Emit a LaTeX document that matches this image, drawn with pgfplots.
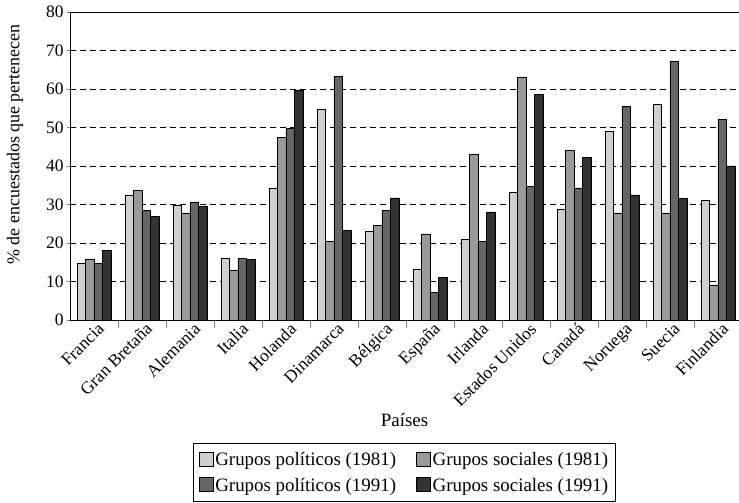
\documentclass[border=0pt]{standalone}
\usepackage{fontspec}
\setmainfont{Liberation Serif}
\usepackage{pgfplots}
\usepackage{pgfplotstable}
\pgfplotsset{compat=1.18}

\definecolor{polA}{HTML}{CFCFCF}
\definecolor{socA}{HTML}{9A9A9A}
\definecolor{polB}{HTML}{666666}
\definecolor{socB}{HTML}{333333}

% columnas: politicos 1981, sociales 1981, politicos 1991, sociales 1991
\pgfplotstableread{
x  p81   s81   p91   s91
0  14.7  15.9  14.7  18.0
1  32.5  33.6  28.5  27.0
2  29.9  27.8  30.7  29.5
3  16.0  12.8  16.0  15.8
4  34.3  47.4  49.7  59.8
5  54.7  20.5  63.3  23.3
6  23.1  24.5  28.5  31.7
7  13.2  22.4   7.2  11.0
8  20.9  43.0  20.5  28.1
9  33.3  63.0  34.7  58.7
10 28.8  44.0  34.3  42.3
11 48.9  27.8  55.5  32.5
12 56.1  27.8  67.3  31.5
13 31.0   9.1  52.2  40.0
}\datos

\newcommand{\fnt}{\fontsize{17.5}{21}\selectfont}
\newcommand{\fntl}{\fontsize{19}{22}\selectfont}

\begin{document}
\begin{tikzpicture}
\begin{axis}[
    name=ax,
    scale only axis,
    width=669bp, height=308bp,
    ybar, bar width=0.177,
    xmin=-0.5, xmax=13.44,
    ymin=0, ymax=80,
    axis x line*=box, axis y line*=left,
    axis line style={line width=0.8pt},
    xtick={0,...,13},
    xticklabels={Francia, Gran Bretaña, Alemania, Italia, Holanda, Dinamarca, Bélgica, España, Irlanda, Estados Unidos, Canadá, Noruega, Suecia, Finlandia},
    major x tick style={draw=none},
    minor xtick={0.5,1.5,...,12.5},
    minor tick length=8bp,
    xtick pos=left,
    x tick label style={rotate=45, anchor=north east, inner sep=1bp, xshift=4bp},
    ytick={0,10,...,80},
    ytick pos=left, ytick align=outside,
    major tick length=3bp,
    ymajorgrids,
    y grid style={black, line width=0.7pt, dash pattern=on 6bp off 4bp},
    /pgf/number format/assume math mode=true,
    tick label style={font=\fnt},
    xlabel={Países},
    ylabel={\% de encuestados que pertenecen},
    xlabel style={font=\fntl, yshift=-1bp},
    ylabel style={font=\fontsize{18}{21}\selectfont, at={(axis description cs:-0.082,0.57)}, anchor=center},
    legend columns=2,
    legend style={at={(0.5,-0.4)}, anchor=north, draw=black, line width=0.6pt,
        font=\fntl, cells={anchor=west},
        inner xsep=5bp, inner ysep=7bp, row sep=7bp,
        /tikz/every even column/.append style={column sep=18bp}},
    legend image code/.code={\draw[#1, draw=black, line width=0.5pt] (0bp,-6bp) rectangle (14bp,8bp);},
]
\addplot[fill=polA, draw=black, line width=0.5pt, bar shift=-0.2655] table[x=x, y=p81] {\datos};
\addplot[fill=socA, draw=black, line width=0.5pt, bar shift=-0.0885] table[x=x, y=s81] {\datos};
\addplot[fill=polB, draw=black, line width=0.5pt, bar shift=0.0885] table[x=x, y=p91] {\datos};
\addplot[fill=socB, draw=black, line width=0.5pt, bar shift=0.2655] table[x=x, y=s91] {\datos};
\legend{Grupos políticos (1981), Grupos sociales (1981), Grupos políticos (1991), Grupos sociales (1991)}
\end{axis}
\pgfresetboundingbox
\path ([shift={(-70bp,-183bp)}]ax.south west) rectangle ([shift={(0bp,12bp)}]ax.north east);
\end{tikzpicture}
\end{document}
